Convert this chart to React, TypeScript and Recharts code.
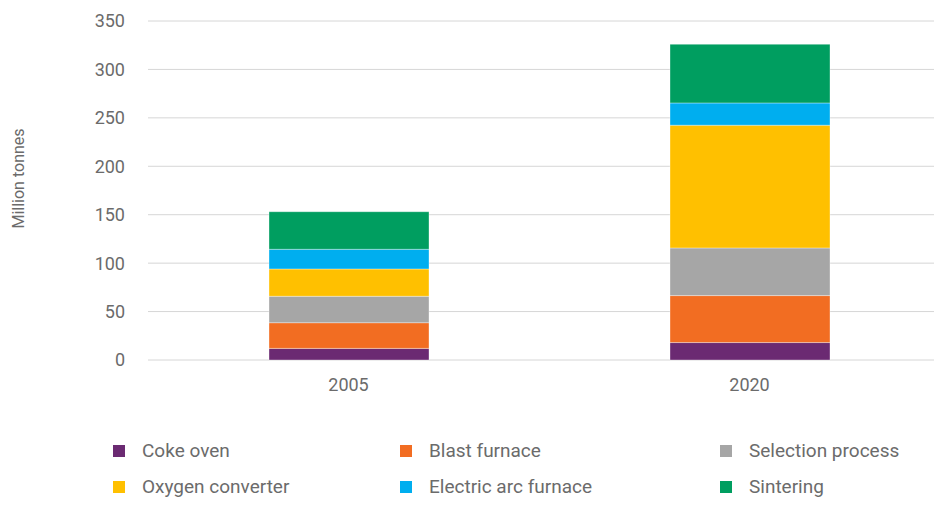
import { BarChart, Bar, XAxis, YAxis, CartesianGrid, Legend } from "recharts";

const years = ["2005", "2020"];
const cokeOven = [12, 18];
const blastFurnace = [26.5, 48.5];
const selectionProcess = [27.3, 49.2];
const oxygenConverter = [28.2, 126.7];
const electricArcFurnace = [20.3, 23];
const sintering = [38.8, 60.6];
const yTicks = [0, 50, 100, 150, 200, 250, 300, 350];

const series = [
    { key: "coke", name: "Coke oven", values: cokeOven, color: "#6B2A72" },
    { key: "blast", name: "Blast furnace", values: blastFurnace, color: "#F26D22" },
    { key: "selection", name: "Selection process", values: selectionProcess, color: "#A6A6A6" },
    { key: "oxygen", name: "Oxygen converter", values: oxygenConverter, color: "#FFC000" },
    { key: "eaf", name: "Electric arc furnace", values: electricArcFurnace, color: "#00AEEF" },
    { key: "sinter", name: "Sintering", values: sintering, color: "#009E60" },
];

const data = years.map((year, i) => {
    const row: Record<string, string | number> = { year };
    series.forEach(s => { row[s.key] = s.values[i] });
    return row;
});

const FONT = "Roboto, sans-serif";
const TEXT = "#6b6b6b";

// legend laid out as a 3x2 grid like the original
const colX = [113, 400, 720];
const rowY = [61, 97];

function GridLegend() {
    return (
        <div style={{ position: "relative", width: 942, height: 118, fontFamily: FONT }}>
            {series.map((s, i) => {
                const col = i % 3;
                const row = Math.floor(i / 3);
                return (
                    <div key={s.key} style={{ position: "absolute", left: colX[col], top: rowY[row] - 11, height: 22, display: "flex", alignItems: "center" }}>
                        <span style={{ width: 12, height: 12, background: s.color, display: "inline-block", marginRight: 17 }} />
                        <span style={{ fontSize: 19, lineHeight: "22px", color: TEXT, whiteSpace: "nowrap" }}>{s.name}</span>
                    </div>
                );
            })}
        </div>
    );
}

export default function App() {
    return (
        <div style={{ margin: -8, width: 942, height: 508, overflow: "hidden", background: "#fff", position: "relative" }}>
            <BarChart width={950} height={508} data={data} margin={{ top: 21, right: 0, bottom: 0, left: 0 }} barSize={160}>
                <CartesianGrid vertical={false} stroke="#d6d6d6" />
                <XAxis dataKey="year" axisLine={false} tickLine={false} height={30} tickMargin={12}
                    tick={{ fill: TEXT, fontSize: 18, fontFamily: FONT }} />
                <YAxis domain={[0, 350]} ticks={yTicks} axisLine={false} tickLine={false} tickSize={0} tickMargin={23} width={148}
                    tick={{ fill: TEXT, fontSize: 18, fontFamily: FONT }}
                    label={{ value: "Million tonnes", angle: -90, position: "insideLeft", dx: 13, dy: -12, style: { fill: TEXT, fontSize: 16, fontFamily: FONT, textAnchor: "middle" } }} />
                <Legend verticalAlign="bottom" content={() => <GridLegend />} wrapperStyle={{ left: 0, top: 390, width: 942, height: 118 }} />
                {series.map(s => (
                    <Bar key={s.key} dataKey={s.key} name={s.name} stackId="a" fill={s.color}
                        stroke="#ffffff" strokeOpacity={0.35} strokeWidth={1} isAnimationActive={false} />
                ))}
            </BarChart>
        </div>
    );
}
